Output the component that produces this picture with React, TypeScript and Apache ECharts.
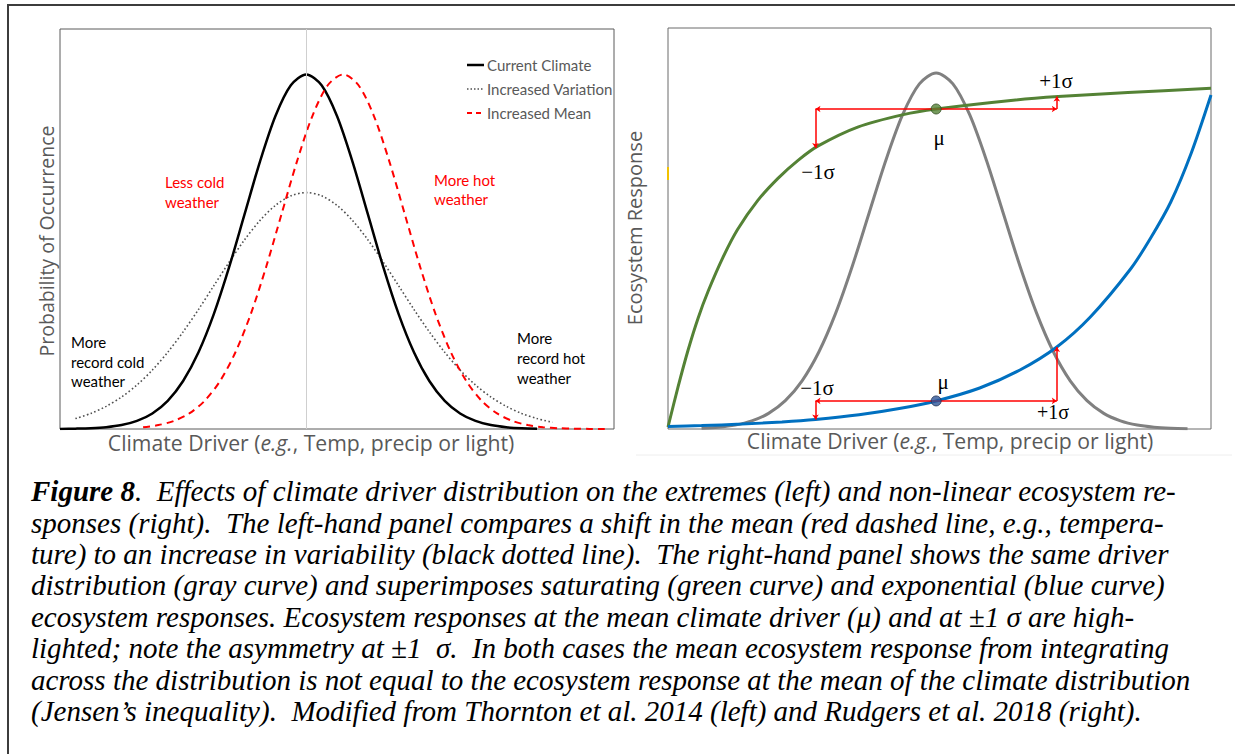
import React, { useEffect, useRef } from 'react';
import * as echarts from 'echarts';

// ---------- Left panel: climate driver distributions ----------
const CURRENT_X = [-4, -3.75, -3.5, -3.25, -3, -2.75, -2.5, -2.25, -2, -1.75, -1.5, -1.25, -1, -0.75, -0.5, -0.25, 0, 0.25, 0.5, 0.75, 1, 1.25, 1.5, 1.75, 2, 2.25, 2.5, 2.75, 3, 3.25, 3.5, 3.75];
const CURRENT_Y = [0.0001, 0.0004, 0.0009, 0.002, 0.0044, 0.0091, 0.0175, 0.0317, 0.054, 0.0863, 0.1295, 0.1826, 0.242, 0.3011, 0.3521, 0.3867, 0.3989, 0.3867, 0.3521, 0.3011, 0.242, 0.1826, 0.1295, 0.0863, 0.054, 0.0317, 0.0175, 0.0091, 0.0044, 0.002, 0.0009, 0.0004];

const VARIATION_X = [-3.75, -3.5, -3.25, -3, -2.75, -2.5, -2.25, -2, -1.75, -1.5, -1.25, -1, -0.75, -0.5, -0.25, 0, 0.25, 0.5, 0.75, 1, 1.25, 1.5, 1.75, 2, 2.25, 2.5, 2.75, 3, 3.25, 3.5, 3.75, 4];
const VARIATION_Y = [0.0117, 0.0175, 0.0255, 0.036, 0.0495, 0.0663, 0.0863, 0.1093, 0.1345, 0.1613, 0.1879, 0.213, 0.2347, 0.2516, 0.2623, 0.266, 0.2623, 0.2516, 0.2347, 0.213, 0.1879, 0.1613, 0.1345, 0.1093, 0.0863, 0.0663, 0.0495, 0.036, 0.0255, 0.0175, 0.0117, 0.0076];

const MEAN_X = [-2.65, -2.4, -2.15, -1.9, -1.65, -1.4, -1.15, -0.9, -0.65, -0.4, -0.15, 0.1, 0.35, 0.6, 0.85, 1.1, 1.35, 1.6, 1.85, 2.1, 2.35, 2.6, 2.85, 3.1, 3.35, 3.6, 3.85, 4.1, 4.35, 4.6, 4.85];
const MEAN_Y = [0.002, 0.0044, 0.0091, 0.0175, 0.0317, 0.054, 0.0863, 0.1295, 0.1826, 0.242, 0.3011, 0.3521, 0.3867, 0.3989, 0.3867, 0.3521, 0.3011, 0.242, 0.1826, 0.1295, 0.0863, 0.054, 0.0317, 0.0175, 0.0091, 0.0044, 0.002, 0.0009, 0.0004, 0.0001, 0];

const LEGEND_NAMES = ['Current Climate', 'Increased Variation', 'Increased Mean'];

// ---------- Right panel: driver distribution + ecosystem responses ----------
const DRIVER_X = [-3.5, -3.25, -3, -2.75, -2.5, -2.25, -2, -1.75, -1.5, -1.25, -1, -0.75, -0.5, -0.25, 0, 0.25, 0.5, 0.75, 1, 1.25, 1.5, 1.75, 2, 2.25, 2.5, 2.75, 3, 3.25, 3.5, 3.75];
const DRIVER_Y = [0.002, 0.0045, 0.0098, 0.0203, 0.039, 0.0706, 0.1202, 0.1921, 0.2883, 0.4065, 0.5387, 0.6703, 0.7838, 0.8608, 0.888, 0.8608, 0.7838, 0.6703, 0.5387, 0.4065, 0.2883, 0.1921, 0.1202, 0.0706, 0.039, 0.0203, 0.0098, 0.0045, 0.002, 0.0009];

const SATURATING_X = [-4, -3.85, -3.7, -3.55, -3.4, -3.18, -2.96, -2.66, -2.36, -2.06, -1.76, -1.17, -0.49, 0, 1.15, 1.82, 2.86, 4.1];
const SATURATING_Y = [0.005, 0.105, 0.197, 0.277, 0.344, 0.428, 0.498, 0.57, 0.625, 0.67, 0.706, 0.753, 0.784, 0.798, 0.82, 0.829, 0.839, 0.85];

const EXPONENTIAL_X = [-4, -3.5, -2.9, -2.3, -1.8, -1.15, -0.55, 0, 0.65, 1.25, 1.8, 2.3, 2.9, 3.2, 3.5, 3.8, 4.1];
const EXPONENTIAL_Y = [0.0062, 0.0085, 0.0122, 0.0175, 0.0237, 0.0354, 0.0511, 0.07, 0.1022, 0.1471, 0.2045, 0.2793, 0.399, 0.4763, 0.5661, 0.6858, 0.833];

const MU = 0;
const SIGMA_LO = -1.8;
const SIGMA_HI = 1.8;
const SAT_AT = { lo: 0.701, mu: 0.798, hi: 0.829 };
const EXP_AT = { lo: 0.0237, mu: 0.07, hi: 0.2045 };

const CAPTION_LINES = [
  'sponses (right).  The left-hand panel compares a shift in the mean (red dashed line, e.g., tempera-',
  'ture) to an increase in variability (black dotted line).  The right-hand panel shows the same driver',
  'distribution (gray curve) and superimposes saturating (green curve) and exponential (blue curve)',
  'ecosystem responses. Ecosystem responses at the mean climate driver (\u03bc) and at \u00b11 \u03c3 are high-',
  'lighted; note the asymmetry at \u00b11  \u03c3.  In both cases the mean ecosystem response from integrating',
  'across the distribution is not equal to the ecosystem response at the mean of the climate distribution',
  '(Jensen\u2019s inequality).  Modified from Thornton et al. 2014 (left) and Rudgers et al. 2018 (right).',
];
const CAPTION_FIRST_BOLD = 'Figure 8';
const CAPTION_FIRST_REST = '.  Effects of climate driver distribution on the extremes (left) and non-linear ecosystem re-';

const zip = (xs: number[], ys: number[]) => xs.map((x, i) => [x, ys[i]]);

const SANS = '"Open Sans", "Noto Sans", sans-serif';
const NARROW = 'Lato, "Noto Sans", sans-serif';
const SERIF = '"Liberation Serif", "DejaVu Serif", serif';
const CAP_SIZE = 29;

export default function App() {
  const ref = useRef<HTMLDivElement>(null);

  useEffect(() => {
    if (!ref.current) return;
    const chart = echarts.init(ref.current, undefined, { renderer: 'svg' });

    const hiddenAxis = {
      axisLine: { show: false },
      axisTick: { show: false },
      axisLabel: { show: false },
      splitLine: { show: false },
    };

    const arrowLine = {
      silent: true,
      symbol: ['none', 'arrow'],
      symbolSize: 5,
      label: { show: false },
      lineStyle: { color: '#ff0000', width: 1.5, type: 'solid' },
      emphasis: { disabled: true },
    };

    const txt = (text: string, x: number, y: number, font: string, fill = '#000', align = 'left') => ({
      type: 'text',
      x,
      y,
      silent: true,
      style: { text, font, fill, align, verticalAlign: 'middle' },
    });

    const legendLine = (y: number, stroke: string, lineWidth: number, lineDash?: number[]) => ({
      type: 'line',
      silent: true,
      shape: { x1: 467, y1: y, x2: 484, y2: y },
      style: { stroke, lineWidth, lineDash: lineDash || null },
    });

    const xTitle = (x: number, y: number) => ({
      type: 'text',
      x,
      y,
      silent: true,
      style: {
        text: '{n|Climate Driver (}{i|e.g.}{n|, Temp, precip or light)}',
        align: 'center',
        verticalAlign: 'middle',
        rich: {
          n: { font: '21.2px ' + SANS, fill: '#595959' },
          i: { font: 'italic 21.2px ' + SANS, fill: '#595959' },
        },
      },
    });

    const graphics: any[] = [
      {
        type: 'rect',
        silent: true,
        shape: { x: 8, y: 5, width: 1250, height: 770 },
        style: { fill: 'none', stroke: '#3c3c3c', lineWidth: 2 },
      },
      {
        type: 'rect',
        silent: true,
        shape: { x: 667, y: 167, width: 2, height: 13 },
        style: { fill: '#f2c200' },
      },
      {
        type: 'line',
        silent: true,
        shape: { x1: 636, y1: 455, x2: 1232, y2: 455 },
        style: { stroke: '#eeeeee', lineWidth: 1 },
      },
      // left y title
      {
        type: 'text',
        x: 46,
        y: 241,
        rotation: Math.PI / 2,
        silent: true,
        style: { text: 'Probability of Occurrence', font: '19.5px ' + SANS, fill: '#595959', align: 'center', verticalAlign: 'middle' },
      },
      // right y title
      {
        type: 'text',
        x: 634,
        y: 228,
        rotation: Math.PI / 2,
        silent: true,
        style: { text: 'Ecosystem Response', font: '20px ' + SANS, fill: '#595959', align: 'center', verticalAlign: 'middle' },
      },
      xTitle(311, 442),
      xTitle(950, 440),
      // legend (drawn by hand to match line swatches)
      legendLine(65, '#000000', 2.5),
      legendLine(89, '#505050', 1.5, [1.5, 2]),
      legendLine(113, '#ff0000', 2, [5, 4]),
      txt(LEGEND_NAMES[0], 487, 65, '15px ' + NARROW, '#595959'),
      txt(LEGEND_NAMES[1], 487, 89, '15px ' + NARROW, '#595959'),
      txt(LEGEND_NAMES[2], 487, 113, '15px ' + NARROW, '#595959'),
      // left annotations
      txt('Less cold', 165, 182, '15px ' + NARROW, '#ff0000'),
      txt('weather', 165, 202, '15px ' + NARROW, '#ff0000'),
      txt('More hot', 434, 180, '15px ' + NARROW, '#ff0000'),
      txt('weather', 434, 199, '15px ' + NARROW, '#ff0000'),
      txt('More', 71, 342, '15px ' + NARROW),
      txt('record cold', 71, 362, '15px ' + NARROW),
      txt('weather', 71, 381, '15px ' + NARROW),
      txt('More', 517, 338, '15px ' + NARROW),
      txt('record hot', 517, 358, '15px ' + NARROW),
      txt('weather', 517, 378, '15px ' + NARROW),
      // right annotations
      txt('+1\u03c3', 1056, 81, '21px ' + SERIF, '#000', 'center'),
      txt('\u03bc', 939, 138, '21px ' + SERIF, '#000', 'center'),
      txt('\u22121\u03c3', 818, 172, '21px ' + SERIF, '#000', 'center'),
      txt('\u22121\u03c3', 817, 388, '21px ' + SERIF, '#000', 'center'),
      txt('\u03bc', 943, 382, '21px ' + SERIF, '#000', 'center'),
      txt('+1\u03c3', 1053, 412, '20px ' + SERIF, '#000', 'center'),
      // caption
      {
        type: 'text',
        x: 31,
        y: 491,
        silent: true,
        style: {
          text: '{b|' + CAPTION_FIRST_BOLD + '}{i|' + CAPTION_FIRST_REST + '}',
          verticalAlign: 'middle',
          rich: {
            b: { font: 'bold italic ' + CAP_SIZE + 'px ' + SERIF, fill: '#000' },
            i: { font: 'italic ' + CAP_SIZE + 'px ' + SERIF, fill: '#000' },
          },
        },
      },
      ...CAPTION_LINES.map((line, i) => txt(line, 31, 522.5 + i * 31.4, 'italic ' + CAP_SIZE + 'px ' + SERIF)),
    ];

    chart.setOption({
      animation: false,
      backgroundColor: '#ffffff',
      grid: [
        { left: 60, top: 29, width: 554, height: 400, show: true, borderColor: '#5a5a5a', borderWidth: 1, backgroundColor: 'transparent' },
        { left: 668, top: 28, width: 543, height: 401, show: true, borderColor: '#6a6a6a', borderWidth: 1, backgroundColor: 'transparent' },
      ],
      xAxis: [
        { type: 'value', gridIndex: 0, min: -4, max: 5, ...hiddenAxis },
        { type: 'value', gridIndex: 1, min: -4, max: 4.1, ...hiddenAxis },
      ],
      yAxis: [
        { type: 'value', gridIndex: 0, min: 0, max: 0.45, ...hiddenAxis },
        { type: 'value', gridIndex: 1, min: 0, max: 1, ...hiddenAxis },
      ],
      series: [
        {
          name: LEGEND_NAMES[0],
          type: 'line',
          xAxisIndex: 0,
          yAxisIndex: 0,
          data: zip(CURRENT_X, CURRENT_Y),
          smooth: 0.3,
          symbol: 'none',
          lineStyle: { color: '#000000', width: 2.5 },
          itemStyle: { color: '#000000' },
          markLine: {
            silent: true,
            symbol: ['none', 'none'],
            label: { show: false },
            lineStyle: { color: '#cfcfcf', width: 1, type: 'solid' },
            data: [{ xAxis: 0 }],
          },
          z: 3,
        },
        {
          name: LEGEND_NAMES[1],
          type: 'line',
          xAxisIndex: 0,
          yAxisIndex: 0,
          data: zip(VARIATION_X, VARIATION_Y),
          smooth: 0.3,
          symbol: 'none',
          lineStyle: { color: '#505050', width: 1.6, type: [1.6, 2.4] },
          itemStyle: { color: '#505050' },
          z: 2,
        },
        {
          name: LEGEND_NAMES[2],
          type: 'line',
          xAxisIndex: 0,
          yAxisIndex: 0,
          data: zip(MEAN_X, MEAN_Y),
          smooth: 0.3,
          symbol: 'none',
          lineStyle: { color: '#ff0000', width: 2, type: [7, 5] },
          itemStyle: { color: '#ff0000' },
          z: 4,
        },
        {
          name: 'Driver distribution',
          type: 'line',
          xAxisIndex: 1,
          yAxisIndex: 1,
          data: zip(DRIVER_X, DRIVER_Y),
          smooth: 0.3,
          symbol: 'none',
          lineStyle: { color: '#808080', width: 3 },
          z: 2,
        },
        {
          name: 'Saturating response',
          type: 'line',
          xAxisIndex: 1,
          yAxisIndex: 1,
          data: zip(SATURATING_X, SATURATING_Y),
          smooth: 0.3,
          symbol: 'none',
          lineStyle: { color: '#548235', width: 3 },
          markLine: {
            ...arrowLine,
            data: [
              [{ coord: [MU, SAT_AT.mu] }, { coord: [SIGMA_LO, SAT_AT.mu] }],
              [{ coord: [MU, SAT_AT.mu] }, { coord: [SIGMA_HI, SAT_AT.mu] }],
              [{ coord: [SIGMA_LO, SAT_AT.mu] }, { coord: [SIGMA_LO, SAT_AT.lo] }],
              [{ coord: [SIGMA_HI, SAT_AT.mu] }, { coord: [SIGMA_HI, SAT_AT.hi] }],
            ],
          },
          z: 3,
        },
        {
          name: 'Exponential response',
          type: 'line',
          xAxisIndex: 1,
          yAxisIndex: 1,
          data: zip(EXPONENTIAL_X, EXPONENTIAL_Y),
          smooth: 0.3,
          symbol: 'none',
          lineStyle: { color: '#0070c0', width: 3 },
          markLine: {
            ...arrowLine,
            data: [
              [{ coord: [MU, EXP_AT.mu] }, { coord: [SIGMA_LO, EXP_AT.mu] }],
              [{ coord: [MU, EXP_AT.mu] }, { coord: [SIGMA_HI, EXP_AT.mu] }],
              [{ coord: [SIGMA_LO, EXP_AT.mu] }, { coord: [SIGMA_LO, EXP_AT.lo] }],
              [{ coord: [SIGMA_HI, EXP_AT.mu] }, { coord: [SIGMA_HI, EXP_AT.hi] }],
            ],
          },
          z: 3,
        },
        {
          name: 'Mean saturating',
          type: 'scatter',
          xAxisIndex: 1,
          yAxisIndex: 1,
          data: [[MU, SAT_AT.mu]],
          symbolSize: 10,
          itemStyle: { color: '#548235', borderColor: '#2e4a1e', borderWidth: 1 },
          z: 5,
        },
        {
          name: 'Mean exponential',
          type: 'scatter',
          xAxisIndex: 1,
          yAxisIndex: 1,
          data: [[MU, EXP_AT.mu]],
          symbolSize: 10,
          itemStyle: { color: '#2f5597', borderColor: '#1f3050', borderWidth: 1 },
          z: 5,
        },
      ],
      graphic: graphics,
    });

    return () => chart.dispose();
  }, []);

  return (
    <div
      ref={ref}
      style={{ position: 'fixed', left: 0, top: 0, width: 1235, height: 754, background: '#ffffff' }}
    />
  );
}
